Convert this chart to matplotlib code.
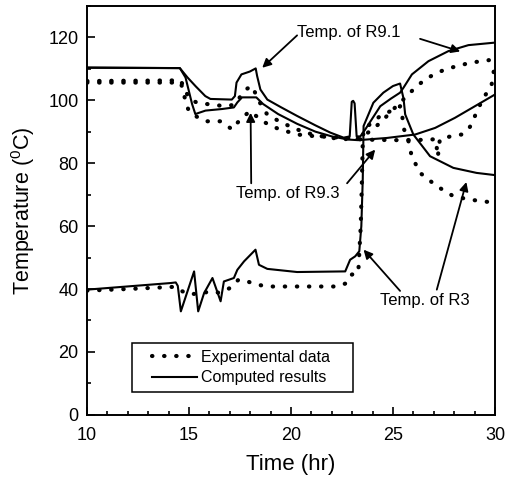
import matplotlib
matplotlib.use("Agg")
import matplotlib.pyplot as plt
from matplotlib.legend_handler import HandlerLine2D
from matplotlib.ticker import MultipleLocator

plt.rcParams["font.family"] = ["Liberation Sans", "DejaVu Sans"]
plt.rcParams["mathtext.default"] = "regular"

# R9.1 - computed (solid) and experimental (dotted)
t_r91_calc = [10, 14.55, 14.93, 15.33, 15.8, 16.05, 17.1, 17.25, 17.33, 17.57, 17.98, 18.27,
              18.34, 18.5, 18.84, 19.5, 20.3, 21.2, 21.93, 22.58, 22.88, 22.98, 23.05, 23.12,
              23.22, 23.4, 23.64, 24.38, 24.9, 25.35, 25.52, 25.93, 26.74, 27.72, 28.7, 30]
y_r91_calc = [110.4, 110.2, 107.2, 104.4, 101.3, 100.4, 100.2, 101.3, 105.6, 108.2, 109.1, 110.1,
              107.7, 103.4, 100.2, 97.8, 95.0, 92.0, 89.7, 88.1, 88.5, 99.5, 99.8, 99.0,
              88.5, 88.5, 90.7, 98.1, 100.5, 102.4, 104.0, 108.2, 112.4, 115.6, 117.5, 118.3]
t_r91_exp = [10, 14.6, 14.8, 15.1, 15.5, 16.2, 16.7, 17.2, 17.5, 17.8, 18.1, 18.4, 18.83,
             19.5, 20.3, 21.1, 22.0, 22.8, 23.3, 23.56, 24.38, 25.0, 25.68, 26.09, 26.58,
             27.07, 27.64, 28.2, 28.78, 29.35, 30]
y_r91_exp = [106.1, 106.3, 103.0, 100.0, 99.0, 98.6, 98.1, 98.5, 101.0, 103.5, 104.5, 100.0, 95.5,
             93.0, 90.7, 89.0, 88.0, 87.6, 87.8, 88.6, 92.8, 97.0, 101.3, 104.0, 106.6,
             108.4, 110.0, 110.9, 111.9, 112.4, 113.0]

# R9.3
t_r93_calc = [10, 14.55, 14.83, 14.99, 15.15, 15.31, 15.81, 16.62, 17.2, 17.37, 17.6, 18.3,
              18.63, 19.37, 20.3, 21.2, 22.0, 22.8, 23.3, 24.7, 26.09, 27.07, 28.04, 29.18, 30]
y_r93_calc = [110.3, 110.2, 107.2, 103.0, 98.8, 95.6, 96.7, 97.2, 97.7, 99.3, 100.9, 100.9,
              98.8, 95.6, 92.5, 90.0, 88.5, 87.5, 87.3, 88.0, 89.1, 91.2, 94.4, 98.7, 101.8]
t_r93_exp = [10, 14.6, 14.75, 14.85, 15.0, 15.57, 15.9, 16.55, 17.12, 17.37, 17.7, 18.0, 18.5,
             19.0, 19.49, 20.3, 21.1, 22.75, 23.5, 25.0, 26.5, 27.1, 27.2, 27.3, 27.88, 28.37,
             28.7, 28.94, 29.1, 29.6, 29.84, 29.95]
y_r93_exp = [105.6, 105.6, 102.0, 99.0, 96.5, 93.9, 93.3, 93.3, 90.7, 92.8, 95.0, 96.5, 93.9,
             91.8, 90.7, 89.1, 88.6, 88.0, 87.5, 87.3, 87.4, 87.6, 82.0, 87.6, 88.6, 89.1,
             90.7, 93.4, 96.5, 102.4, 105.0, 109.5]

# R3
t_r3_calc = [10, 14.1, 14.35, 14.45, 14.6, 15.25, 15.45, 15.74, 16.15, 16.55, 16.71, 17.2, 17.37,
             17.7, 18.26, 18.43, 18.84, 20.3, 22.66, 22.9, 23.15, 23.35, 23.45, 23.52, 23.56,
             24.04, 24.53, 25.0, 25.35, 25.52, 25.6, 26.0, 26.82, 27.96, 29.1, 30]
y_r3_calc = [39.8, 41.9, 42.1, 41.0, 32.9, 45.6, 32.9, 38.7, 43.5, 36.1, 42.4, 43.5, 46.1,
             48.8, 52.5, 47.7, 46.4, 45.4, 45.6, 49.3, 50.4, 52.0, 60.0, 75.0, 91.8,
             99.2, 102.4, 104.5, 105.3, 100.5, 95.5, 89.1, 82.2, 78.5, 76.9, 76.2]
t_r3_exp = [10, 12, 14.3, 14.6, 15.0, 15.5, 16.06, 16.5, 17.04, 17.43, 17.86, 18.35, 18.84,
            22.26, 22.74, 22.99, 23.3, 23.42, 23.48, 23.52, 23.56, 24.38, 24.87, 25.35, 25.44,
            25.52, 25.76, 25.92, 26.33, 27.15, 27.96, 28.78, 30]
y_r3_exp = [39.5, 40.0, 40.7, 39.5, 38.3, 38.6, 39.2, 38.8, 40.4, 43.0, 42.4, 41.4, 40.8,
            40.8, 41.9, 44.6, 45.2, 60.0, 75.0, 87.0, 90.7, 95.0, 96.5, 98.1, 96.0,
            91.2, 87.0, 82.2, 76.9, 72.7, 69.5, 68.4, 67.4]

calc_series = [(t_r91_calc, y_r91_calc), (t_r93_calc, y_r93_calc), (t_r3_calc, y_r3_calc)]
exp_series = [(t_r91_exp, y_r91_exp), (t_r93_exp, y_r93_exp), (t_r3_exp, y_r3_exp)]

dot_style = dict(color="black", lw=3.0, linestyle=(0, (0.1, 2.8)), dash_capstyle="round")
solid_style = dict(color="black", lw=1.5)

fig = plt.figure(figsize=(5.15, 4.83), dpi=100)
ax = fig.add_axes([0.169, 0.141, 0.792, 0.847])

exp_lines = []
for t, y in exp_series:
    exp_lines += ax.plot(t, y, **dot_style)
calc_lines = []
for t, y in calc_series:
    calc_lines += ax.plot(t, y, **solid_style)

ax.set_xlim(10, 30)
ax.set_ylim(0, 130)
ax.xaxis.set_major_locator(MultipleLocator(5))
ax.xaxis.set_minor_locator(MultipleLocator(1))
ax.yaxis.set_major_locator(MultipleLocator(20))
ax.yaxis.set_minor_locator(MultipleLocator(10))
ax.tick_params(which="both", direction="in", width=1.2, labelsize=13)
ax.tick_params(which="major", length=5.5)
ax.tick_params(which="minor", length=3)
ax.tick_params(axis="x", pad=9)
ax.tick_params(axis="y", pad=6)
for s in ax.spines.values():
    s.set_linewidth(1.4)

ax.set_xlabel("Time (hr)", fontsize=16, labelpad=7)
ax.set_ylabel("Temperature ($^0$C)", fontsize=15.5, labelpad=8)

arrow = dict(arrowstyle="-|>", color="black", lw=1.3, mutation_scale=13, shrinkA=0, shrinkB=0)
ax.text(22.84, 121.6, "Temp. of R9.1", fontsize=12, ha="center", va="center")
ax.annotate("", xy=(18.59, 110.3), xytext=(20.3, 120.6), arrowprops=arrow)
ax.annotate("", xy=(28.3, 115.5), xytext=(26.33, 119.5), arrowprops=arrow)

ax.text(19.85, 70.3, "Temp. of R9.3", fontsize=12, ha="center", va="center")
ax.annotate("", xy=(18.02, 96.0), xytext=(18.05, 73.6), arrowprops=arrow)
ax.annotate("", xy=(24.13, 84.3), xytext=(22.75, 73.6), arrowprops=arrow)

ax.text(26.58, 36.3, "Temp. of R3", fontsize=12, ha="center", va="center")
ax.annotate("", xy=(23.56, 52.5), xytext=(25.35, 39.4), arrowprops=arrow)
ax.annotate("", xy=(28.6, 74.0), xytext=(27.15, 39.8), arrowprops=arrow)

handler = {exp_lines[0]: HandlerLine2D(xpad=0.85), calc_lines[0]: HandlerLine2D(xpad=0.85)}
leg = ax.legend([exp_lines[0], calc_lines[0]], ["Experimental data", "Computed results"],
                loc="lower left", bbox_to_anchor=(0.1096, 0.057, 0.543, 0.126), mode="expand",
                borderaxespad=0, fontsize=11.5, handlelength=3.7, handletextpad=0.25,
                labelspacing=0.35, borderpad=0.4, fancybox=False, edgecolor="black",
                framealpha=1, handler_map=handler)
leg.get_frame().set_linewidth(1.1)

fig.savefig("out.png", dpi=100)
